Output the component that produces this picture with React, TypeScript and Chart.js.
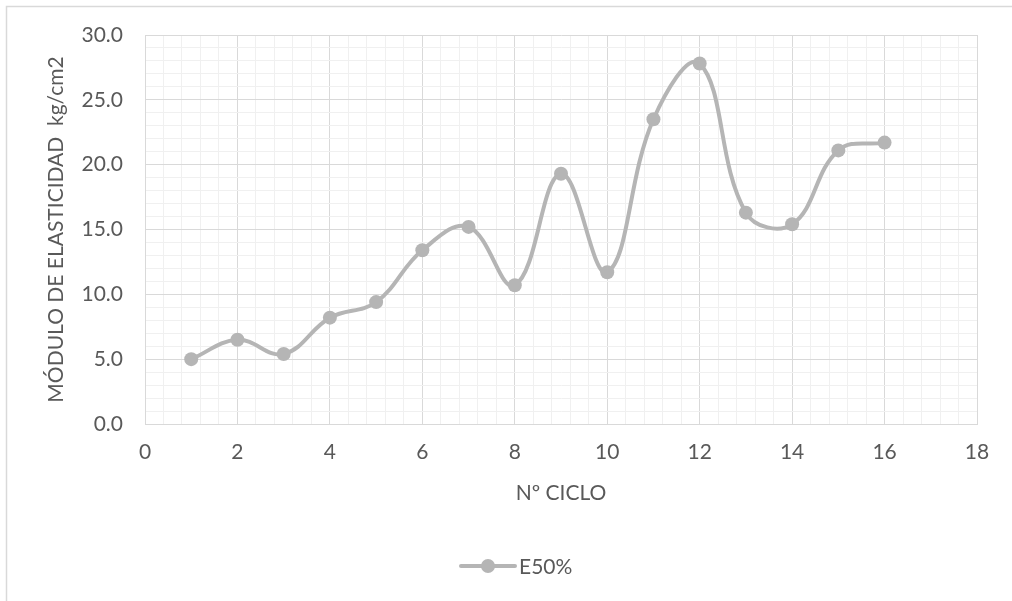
import React, { useEffect, useRef } from "react";
import { Chart, registerables } from "chart.js";

Chart.register(...registerables);

// Cycle numbers and the measured E50% modulus (kg/cm2) for each cycle
const cycles = [1, 2, 3, 4, 5, 6, 7, 8, 9, 10, 11, 12, 13, 14, 15, 16];
const e50 = [5.0, 6.5, 5.4, 8.2, 9.4, 13.4, 15.2, 10.7, 19.3, 11.7, 23.5, 27.8, 16.3, 15.4, 21.1, 21.7];

const seriesLabel = "E50%";
const xTitle = "Nº CICLO";
const yTitle = "MÓDULO DE ELASTICIDAD  kg/cm2";

const FONT = "Lato, 'Open Sans', sans-serif";
const FONT_SIZE = 21;
const TEXT = "#595959";
const LINE = "#B5B5B5";
const MAJOR = "#D9D9D9";
const MINOR = "#F0F0F0";

const near = (v: number, step: number) => Math.abs(v / step - Math.round(v / step)) < 1e-6;

// Outer frame plus an Excel-style legend (line with a marker in the middle)
const framePlugin = {
  id: "frame",
  beforeDraw(chart: any) {
    const { ctx } = chart;
    ctx.save();
    ctx.fillStyle = "#ffffff";
    ctx.fillRect(0, 0, chart.width, chart.height);
    ctx.strokeStyle = MAJOR;
    ctx.lineWidth = 1.5;
    ctx.strokeRect(6.5, 6.5, chart.width + 50, chart.height + 50);
    ctx.restore();
  },
  afterDraw(chart: any) {
    const { ctx } = chart;
    const y = 566;
    ctx.save();
    ctx.strokeStyle = LINE;
    ctx.lineWidth = 4;
    ctx.lineCap = "round";
    ctx.beginPath();
    ctx.moveTo(461, y);
    ctx.lineTo(515, y);
    ctx.stroke();
    ctx.fillStyle = LINE;
    ctx.beginPath();
    ctx.arc(488, y, 7, 0, Math.PI * 2);
    ctx.fill();
    ctx.fillStyle = TEXT;
    ctx.font = `${FONT_SIZE}px ${FONT}`;
    ctx.textBaseline = "middle";
    ctx.textAlign = "left";
    ctx.fillText(seriesLabel, 519, y + 1);
    ctx.restore();
  },
};

export default function App() {
  const canvasRef = useRef<HTMLCanvasElement | null>(null);

  useEffect(() => {
    document.body.style.margin = "0";
    const canvas = canvasRef.current;
    if (!canvas) return;

    const points = cycles.map((c, i) => ({ x: c, y: e50[i] }));

    const chart = new Chart(canvas, {
      type: "line",
      data: {
        datasets: [
          {
            label: seriesLabel,
            data: points,
            borderColor: LINE,
            backgroundColor: LINE,
            borderWidth: 4,
            tension: 0.4,
            pointRadius: 7,
            pointBackgroundColor: LINE,
            pointBorderColor: LINE,
            pointBorderWidth: 0,
            fill: false,
            clip: false,
          },
        ],
      },
      options: {
        responsive: false,
        animation: false,
        layout: { padding: { top: 35, right: 35, left: 0, bottom: 0 } },
        plugins: {
          legend: { display: false },
          tooltip: { enabled: false },
        },
        scales: {
          x: {
            type: "linear",
            min: 0,
            max: 18,
            afterFit(scale: any) {
              scale.height = 177;
            },
            ticks: {
              stepSize: 0.4,
              autoSkip: false,
              maxRotation: 0,
              padding: 16,
              color: TEXT,
              font: { family: FONT, size: FONT_SIZE },
              callback: (v: any) => (near(Number(v), 2) ? String(Math.round(Number(v))) : ""),
            },
            grid: {
              drawTicks: false,
              lineWidth: 1,
              color: (ctx: any) => (ctx.tick && near(ctx.tick.value, 2) ? MAJOR : MINOR),
            },
            border: { color: MAJOR, width: 1 },
            title: {
              display: true,
              text: xTitle,
              color: TEXT,
              font: { family: FONT, size: FONT_SIZE },
              padding: { top: 0, bottom: 95 },
            },
          },
          y: {
            type: "linear",
            min: 0,
            max: 30,
            afterFit(scale: any) {
              scale.width = 145;
            },
            ticks: {
              stepSize: 1,
              autoSkip: false,
              padding: 22,
              color: TEXT,
              font: { family: FONT, size: FONT_SIZE },
              callback: (v: any) => (near(Number(v), 5) ? Number(v).toFixed(1) : ""),
            },
            grid: {
              drawTicks: false,
              lineWidth: 1,
              color: (ctx: any) => (ctx.tick && near(ctx.tick.value, 5) ? MAJOR : MINOR),
            },
            border: { color: MAJOR, width: 1 },
            title: {
              display: true,
              text: yTitle,
              color: TEXT,
              font: { family: FONT, size: FONT_SIZE },
              padding: { top: 44, bottom: 0 },
            },
          },
        },
      },
      plugins: [framePlugin],
    });

    return () => chart.destroy();
  }, []);

  return (
    <div style={{ width: 1012, height: 601 }}>
      <canvas ref={canvasRef} width={1012} height={601} style={{ display: "block" }} />
    </div>
  );
}
